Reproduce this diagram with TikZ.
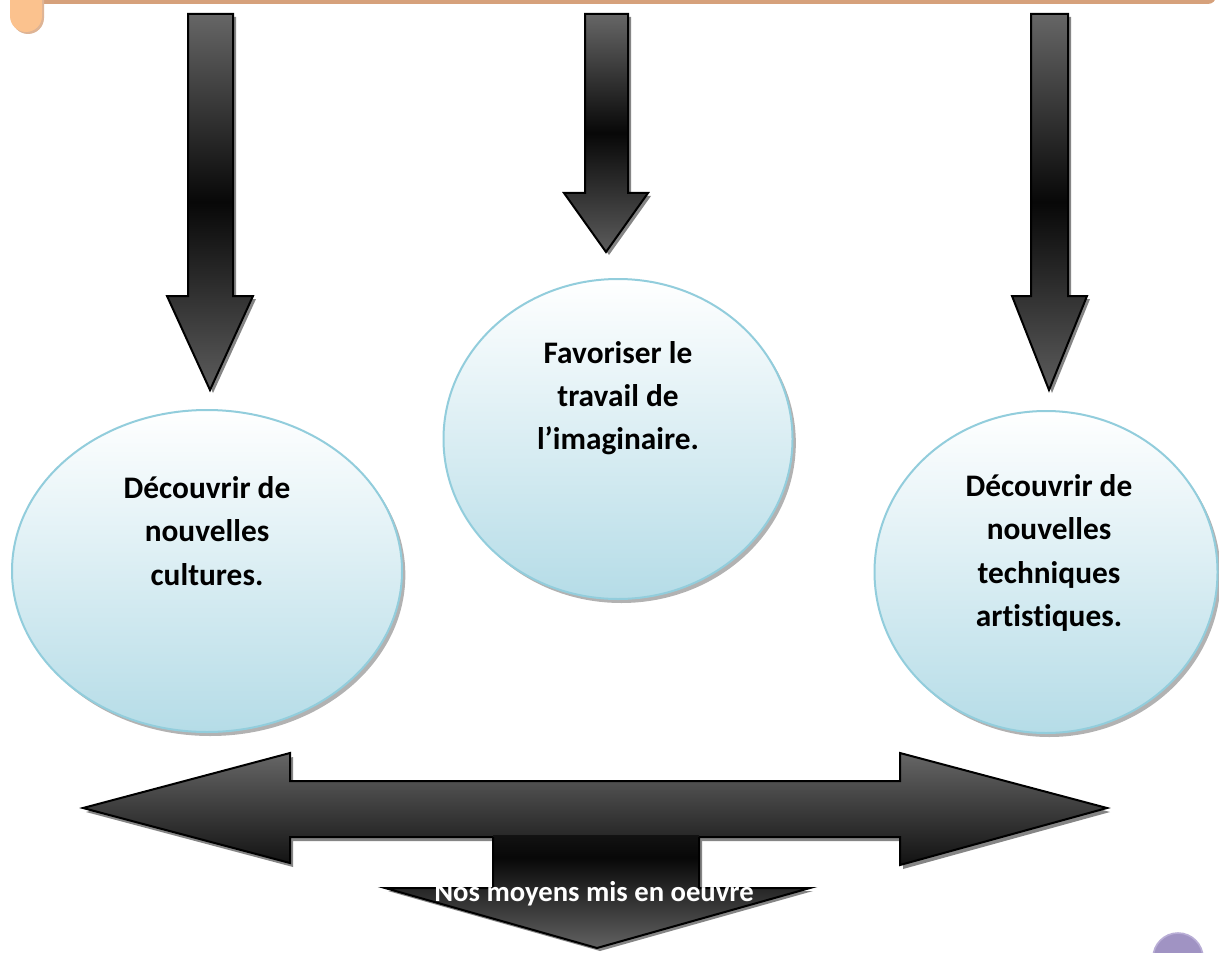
\documentclass[tikz,border=0pt]{standalone}
\usepackage{fontspec}
\setmainfont{Carlito}[Ligatures={NoCommon}]
\usetikzlibrary{shapes.geometric,shadows}
\definecolor{peach}{HTML}{FBC28E}
\definecolor{tanc}{HTML}{D6A17B}
\definecolor{ebord}{HTML}{92CDDC}
\definecolor{ebot}{HTML}{B5DCE7}
\definecolor{purp}{HTML}{A093C3}
\definecolor{purpb}{HTML}{B9AED6}
\definecolor{shd}{HTML}{858585}
\pgfdeclareverticalshading{dsh}{100bp}{color(0bp)=(black!62); color(25bp)=(black!62); color(65bp)=(black!97); color(75bp)=(black!93); color(100bp)=(black!93)}
\begin{document}
\begin{tikzpicture}[x=0.75pt,y=-0.75pt,
  arrowline/.style={draw=black,line width=1.5pt,line join=miter},
  varrow/.style={arrowline,top color=black!60,bottom color=black!64,middle color=black!97},
  shadowfill/.style={fill=shd},
  bubble/.style={ellipse,draw=ebord,line width=1.5pt,top color=white,bottom color=ebot,inner sep=0pt,
    drop shadow={shadow xshift=2.5pt,shadow yshift=-3pt,opacity=0.3,fill=black}},
  bubbletext/.style={font=\bfseries\fontsize{23.5}{32.5}\selectfont,align=center,text=black},
]
\clip (0,0) rectangle (1219,952);
\fill[white] (0,0) rectangle (1219,952);

% top scroll edge
\fill[tanc,rounded corners=6] (30,-12) -- (1216,-12) -- (1216,4) -- (30,4) -- cycle;
\fill[tanc!80] (12,0) -- (12,18) arc[start angle=180,end angle=0,radius=16] -- (44,0) -- cycle;
\fill[peach] (10,-2) -- (10,16) arc[start angle=180,end angle=0,radius=16] -- (42,-2) -- cycle;

% vertical arrows: shadows
\fill[shadowfill] (191,17) -- (236,17) -- (236,299) -- (256,299) -- (213,393) -- (170,299) -- (191,299) -- cycle;
\fill[shadowfill] (588,17) -- (631,17) -- (631,196) -- (651,196) -- (609,255) -- (567,196) -- (588,196) -- cycle;
\fill[shadowfill] (1034,17) -- (1071,17) -- (1071,299) -- (1090,299) -- (1052,393) -- (1015,299) -- (1034,299) -- cycle;
% vertical arrows
\path[varrow] (188,14) -- (233,14) -- (233,296) -- (253,296) -- (210,390) -- (167,296) -- (188,296) -- cycle;
\path[varrow] (585,14) -- (628,14) -- (628,193) -- (648,193) -- (606,252) -- (564,193) -- (585,193) -- cycle;
\path[varrow] (1031,14) -- (1068,14) -- (1068,296) -- (1087,296) -- (1049,390) -- (1012,296) -- (1031,296) -- cycle;

% bubbles
\node[bubble,minimum width=292.5pt,minimum height=241.5pt] (e1) at (207,571) {};
\node[bubble,minimum width=261.75pt,minimum height=240pt] (e2) at (618,439) {};
\node[bubble,minimum width=257.25pt,minimum height=241.5pt] (e3) at (1046,572) {};
\node[bubbletext] (t1) at (207,531) {Découvrir de\\nouvelles\\cultures.};
\node[bubbletext] (t2) at (618,398) {Favoriser le\\travail de\\l’imaginaire.};
\node[bubbletext] (t3) at (1049,553) {Découvrir de\\nouvelles\\techniques\\artistiques.};

% double arrow
\fill[shadowfill] (86,812) -- (293,757) -- (293,785) -- (903,785) -- (903,757) -- (1110,812) -- (903,869) -- (903,841) -- (293,841) -- (293,867) -- cycle;
\path[arrowline,top color=black!60,bottom color=black!93] (83,808) -- (290,753) -- (290,781) -- (900,781) -- (900,753) -- (1107,808) -- (900,865) -- (900,837) -- (290,837) -- (290,863) -- cycle;

% down arrow
\fill[shadowfill] (496,841) -- (496,891) -- (388,891) -- (600,951) -- (813,891) -- (702,891) -- (702,841) -- cycle;
\path[shading=dsh] (493,835) -- (493,888) -- (385,888) -- (597,948) -- (810,888) -- (699,888) -- (699,835) -- cycle;
\draw[line width=1.5pt,line join=miter] (493,837) -- (493,888) -- (385,888) -- (597,948) -- (810,888) -- (699,888) -- (699,837);
\node[font=\bfseries\fontsize{21.5}{24}\selectfont,text=white] (t4) at (594,894) {Nos moyens mis en oeuvre};

% page mark
\filldraw[fill=purp,draw=purpb,line width=1.2pt] (1178,958) circle[radius=25];
\end{tikzpicture}
\end{document}
